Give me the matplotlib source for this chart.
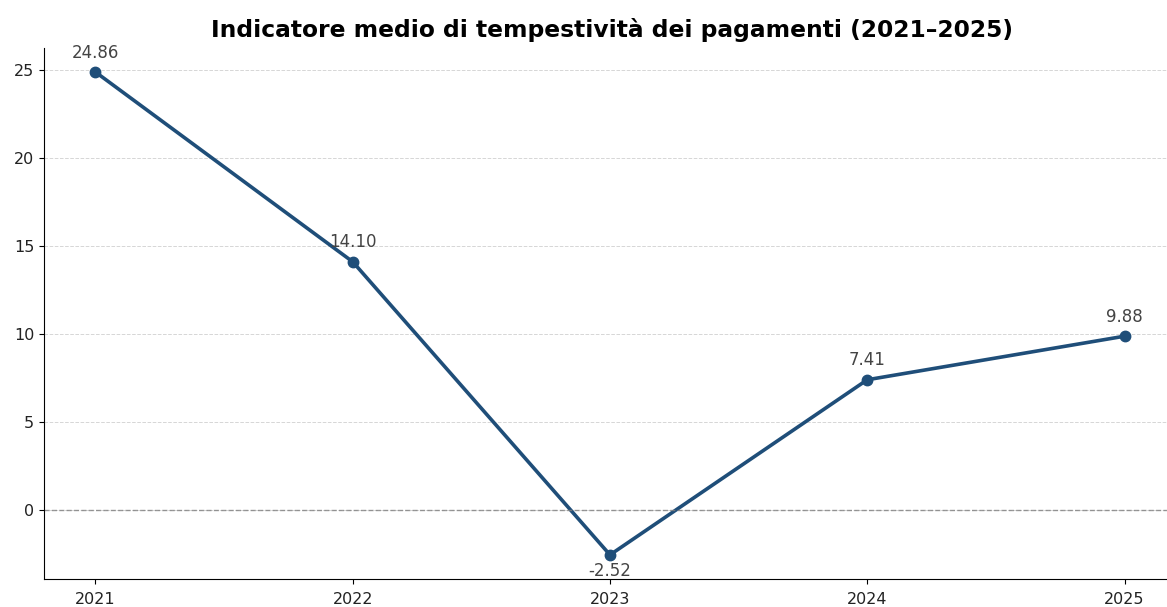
import matplotlib
matplotlib.use("Agg")
import matplotlib.pyplot as plt

anni = [2021, 2022, 2023, 2024, 2025]
valori = [24.86, 14.10, -2.52, 7.41, 9.88]
titolo = "Indicatore medio di tempestività dei pagamenti (2021–2025)"

fig = plt.figure(figsize=(11.67, 6.07), dpi=100)
ax = fig.add_axes([0.0377, 0.0461, 0.97, 0.875])

ax.plot(anni, valori, color="#1f4e79", linewidth=2.6, marker="o", markersize=7.5)
ax.axhline(0, color="gray", linestyle="--", linewidth=1, alpha=0.8)
ax.grid(axis="y", linestyle="--", linewidth=0.7, color="#cccccc", alpha=0.8)
ax.set_axisbelow(True)

for x, y in zip(anni, valori):
    off = -11.5 if y < 0 else 14
    ax.annotate(f"{y:.2f}", (x, y), textcoords="offset points", xytext=(0, off),
                ha="center", va="center", fontsize=12, color="#444444")

ax.set_xticks(anni)
ax.tick_params(axis="both", labelsize=11.5, labelcolor="#222222")
ax.tick_params(axis="x", pad=6)
ax.spines["top"].set_visible(False)
ax.spines["right"].set_visible(False)
fig.text(0.524, 0.95, titolo, ha="center", va="center", fontsize=16.8, fontweight="bold")

fig.savefig("out.png", dpi=100)
